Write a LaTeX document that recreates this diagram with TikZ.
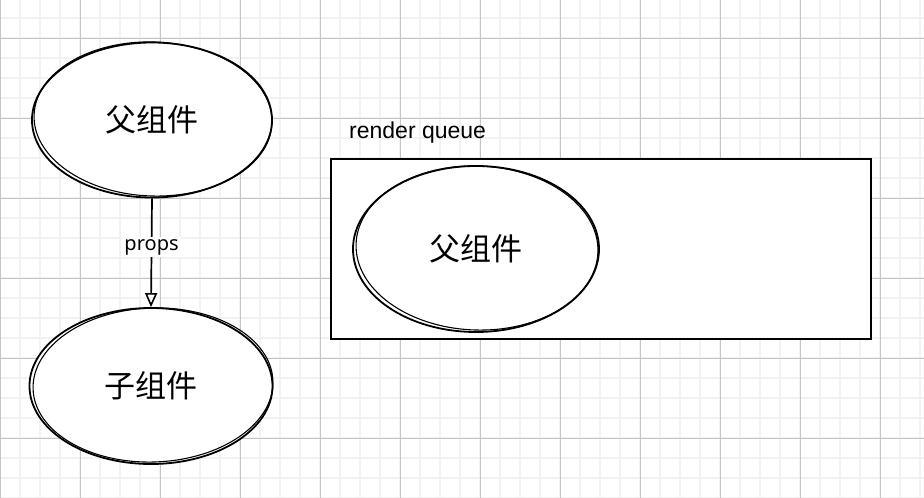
\documentclass[tikz,border=0pt]{standalone}
\usepackage{fontspec}
\setmainfont{Liberation Sans}
\newfontfamily\cjkfont{Noto Sans CJK SC}
\newfontfamily\handfont{Noto Sans}
\usetikzlibrary{shapes.geometric,arrows.meta}
\definecolor{gridminor}{HTML}{F2F2F2}
\definecolor{gridmajor}{HTML}{C4C4C4}
\tikzset{
  minorline/.style={draw=gridminor, line width=1.8pt},
  majorline/.style={draw=gridmajor, line width=1pt},
  comp/.style={ellipse, draw=black, line width=1.8pt, fill=white, inner sep=0pt,
    font=\cjkfont\fontsize{31}{31}\selectfont},
  sketch/.style={draw=black, line width=1.1pt},
  queuebox/.style={draw=black, line width=2pt, fill=white, inner sep=0pt},
  flow/.style={draw=black, line width=1.7pt, -{Triangle[open, width=12pt, length=14pt, line width=1.6pt]}},
  flowlabel/.style={fill=white, inner sep=2pt, font=\handfont\fontsize{20}{20}\selectfont},
  title/.style={font=\fontsize{23}{23}\selectfont, inner sep=0pt}
}
\begin{document}
\begin{tikzpicture}[x=1pt, y=-1pt]
\useasboundingbox (0,0) rectangle (924,498);
\fill[white] (0,0) rectangle (924,498);
% grid
\foreach \x in {20,40,...,920} \draw[minorline] (\x,0) -- (\x,498);
\foreach \y in {-2,18,...,498} \draw[minorline] (0,\y) -- (924,\y);
\foreach \x in {0,80,...,880} \draw[majorline] (\x,0) -- (\x,498);
\foreach \y in {38,118,...,438} \draw[majorline] (0,\y) -- (924,\y);

% parent component
\node[comp, minimum width=240pt, minimum height=155pt] (parent) at (152,120) {父组件};
\draw[sketch] ([shift={(1,-1)}]parent.center) ellipse [x radius=119, y radius=77, rotate=-2];

% child component
\node[comp, minimum width=243pt, minimum height=156pt] (child) at (151,386) {子组件};
\draw[sketch] ([shift={(2,-1)}]child.center) ellipse [x radius=120, y radius=77, rotate=2];

% arrow
\draw[flow] (parent.south) -- (child.north)
  node[flowlabel, pos=0.45] (props) {props};

% render queue
\node[title, anchor=base west] (qtitle) at (349,138) {render queue};
\node[queuebox, minimum width=540pt, minimum height=180pt] (queue) at (601,249) {};
\node[comp, minimum width=246pt, minimum height=166pt] (qparent) at (476,249) {父组件};
\draw[sketch] ([shift={(1,-1)}]qparent.center) ellipse [x radius=121, y radius=82, rotate=-2];
\end{tikzpicture}
\end{document}
